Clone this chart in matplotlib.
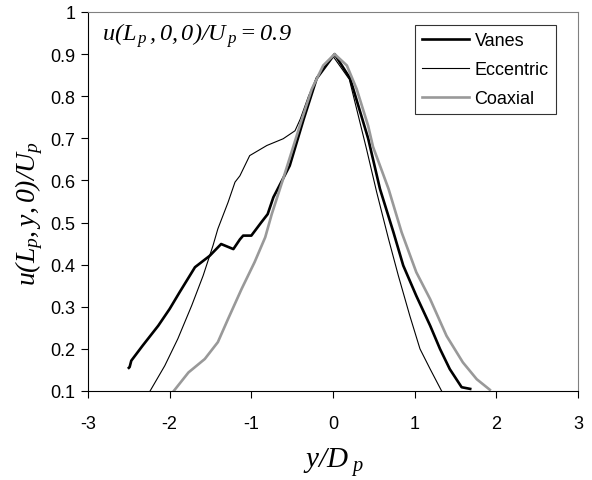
import matplotlib
matplotlib.use("Agg")
import matplotlib.pyplot as plt

plt.rcParams['font.family'] = ['Liberation Sans', 'DejaVu Sans']
plt.rcParams['mathtext.fontset'] = 'custom'
plt.rcParams['mathtext.rm'] = 'Liberation Serif:italic'
plt.rcParams['mathtext.it'] = 'Liberation Serif:italic'

vanes_x = [-2.50, -2.49, -2.47, -2.33, -2.14, -2.00, -1.88, -1.69, -1.51, -1.37, -1.22,
           -1.14, -1.10, -1.00, -0.88, -0.80, -0.73, -0.53, -0.36, -0.20, 0.02, 0.21, 0.43,
           0.575, 0.74, 0.86, 1.02, 1.19, 1.31, 1.43, 1.575, 1.68]
vanes_y = [0.155, 0.157, 0.172, 0.208, 0.255, 0.295, 0.334, 0.394, 0.421, 0.449, 0.437,
           0.460, 0.469, 0.469, 0.500, 0.520, 0.560, 0.635, 0.745, 0.842, 0.900, 0.842, 0.700,
           0.580, 0.477, 0.398, 0.326, 0.255, 0.200, 0.152, 0.109, 0.105]

ecc_x = [-2.24, -2.06, -1.90, -1.73, -1.59, -1.47, -1.41, -1.285, -1.20, -1.14, -1.02,
         -0.81, -0.61, -0.465, -0.40, -0.30, -0.20, 0.00, 0.20, 0.41, 0.535, 0.68, 0.80,
         0.94, 1.065, 1.19, 1.33]
ecc_y = [0.100, 0.160, 0.224, 0.303, 0.374, 0.445, 0.485, 0.548, 0.596, 0.611, 0.659,
         0.683, 0.699, 0.718, 0.746, 0.800, 0.845, 0.895, 0.840, 0.675, 0.572, 0.461, 0.374,
         0.279, 0.200, 0.152, 0.100]

coax_x = [-1.95, -1.77, -1.57, -1.41, -1.285, -1.12, -0.96, -0.83, -0.75, -0.61, -0.38,
          -0.26, -0.12, 0.02, 0.17, 0.29, 0.43, 0.49, 0.68, 0.84, 1.02, 1.19, 1.39, 1.59,
          1.76, 1.92]
coax_y = [0.100, 0.144, 0.176, 0.216, 0.271, 0.342, 0.406, 0.465, 0.520, 0.604, 0.746,
          0.817, 0.873, 0.900, 0.873, 0.817, 0.730, 0.680, 0.580, 0.477, 0.382, 0.318, 0.231,
          0.168, 0.128, 0.103]

x_ticks = [-3, -2, -1, 0, 1, 2, 3]
y_ticks = [0.1, 0.2, 0.3, 0.4, 0.5, 0.6, 0.7, 0.8, 0.9, 1.0]
y_labels = ["0.1", "0.2", "0.3", "0.4", "0.5", "0.6", "0.7", "0.8", "0.9", "1"]

fig = plt.figure(figsize=(5.92, 4.81), dpi=100)
ax = fig.add_axes([88/592, 89/481, 490/592, 379/481])

ax.plot(vanes_x, vanes_y, color='black', lw=1.9, label='Vanes')
ax.plot(ecc_x, ecc_y, color='black', lw=0.8, label='Eccentric')
ax.plot(coax_x, coax_y, color='#999999', lw=1.9, label='Coaxial')

ax.set_xlim(-3, 3)
ax.set_ylim(0.1, 1.0)
ax.set_xticks(x_ticks)
ax.set_xticklabels([str(v) for v in x_ticks])
ax.set_yticks(y_ticks)
ax.set_yticklabels(y_labels)
ax.tick_params(direction='out', length=5, width=0.8, labelsize=13, pad=4)
ax.tick_params(axis='x', pad=12)

for s in ['top', 'right']:
    ax.spines[s].set_color('#808080')
    ax.spines[s].set_linewidth(0.8)
for s in ['left', 'bottom']:
    ax.spines[s].set_color('black')
    ax.spines[s].set_linewidth(0.8)

ax.set_xlabel(r'$y/D_{\ p}$', fontsize=21, labelpad=10)
ax.set_ylabel(r'$u(L_p,y,0)/U_p$', fontsize=20)
ax.yaxis.set_label_coords(-0.088, 0.47)

ax.text(0.028, 0.94, r'$u(L_{\,p}\,,0,0)/U_{\,p}{=}0.9$', transform=ax.transAxes,
        fontsize=17.5, ha='left', va='center')

leg = ax.legend(loc='upper right', bbox_to_anchor=(0.955, 0.965), fontsize=13,
                frameon=True, fancybox=False, edgecolor='black', handlelength=2.6,
                handletextpad=0.3, labelspacing=0.65, borderpad=0.4, borderaxespad=0)
leg.get_frame().set_linewidth(0.8)

fig.savefig('out.png', dpi=100)
